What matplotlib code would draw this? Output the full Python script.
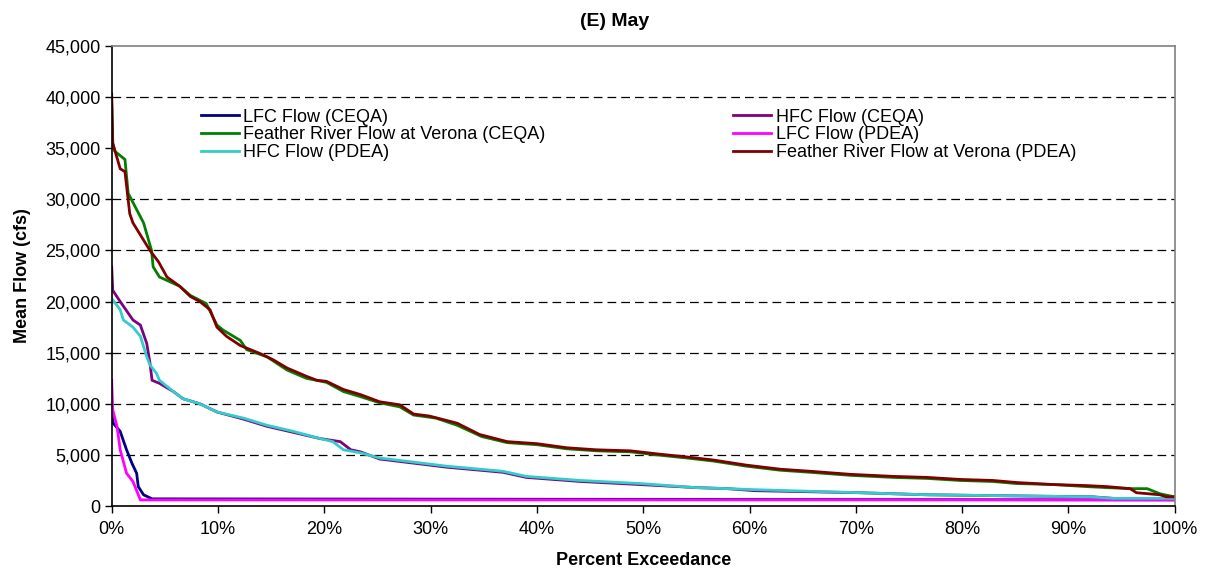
import matplotlib

matplotlib.use("Agg")

import matplotlib.pyplot as plt
from matplotlib.patches import Rectangle
from matplotlib.ticker import FuncFormatter


# ==========================================
# 1. Data
# ==========================================

lfc_ceqa_pct = [0, 0.15, 0.8, 1.4, 1.9, 2.35, 2.5, 3.0, 3.8, 100]
lfc_ceqa_flow = [9700, 8100, 7300, 5500, 4200, 3200, 1900, 1100, 700, 600]

hfc_ceqa_pct = [0, 0.1, 0.8, 2.0, 2.7, 3.3, 3.6, 3.8, 4.5, 5.8, 6.7, 8.3,
                9.9, 12.4, 14.6, 17.1, 19.6, 21.5, 22.5, 23.4, 25.2, 31.5,
                36.8, 39.0, 44.1, 49.7, 55.0, 57.9, 60.5, 70.4, 76.7, 92.3,
                94.8, 100]
hfc_ceqa_flow = [23400, 21100, 20000, 18200, 17700, 15900, 14000, 12300,
                 12000, 11200, 10500, 10000, 9200, 8500, 7800, 7200, 6600,
                 6300, 5500, 5300, 4600, 3800, 3300, 2800, 2400, 2100, 1800,
                 1700, 1500, 1300, 1100, 900, 700, 700]

feather_ceqa_pct = [0, 0.1, 0.3, 1.25, 1.55, 2.35, 3.0, 3.75, 3.9, 4.5,
                    6.4, 7.4, 8.9, 9.9, 10.5, 12.1, 12.7, 14.6, 16.5, 18.3,
                    20.2, 21.8, 23.4, 25.2, 27.1, 28.4, 30.5, 32.5, 34.8,
                    37.2, 40.0, 42.8, 45.6, 48.8, 51.3, 54.1, 56.6, 59.7,
                    62.9, 65.7, 69.5, 73.5, 76.7, 79.8, 82.9, 85.1, 88.6,
                    91.7, 93.6, 95.8, 97.4, 98.6, 99.5, 100]
feather_ceqa_flow = [39500, 35500, 34700, 33900, 30600, 29000, 27700, 25000,
                     23400, 22400, 21500, 20600, 19800, 17700, 17200, 16200,
                     15300, 14600, 13300, 12500, 12100, 11200, 10700, 10100,
                     9700, 8900, 8600, 7900, 6800, 6200, 6000, 5600, 5400,
                     5300, 5000, 4700, 4400, 3900, 3500, 3300, 3000, 2800,
                     2700, 2500, 2400, 2200, 2100, 1900, 1800, 1700, 1700,
                     1200, 1000, 900]

lfc_pdea_pct = [0, 0.1, 0.5, 0.8, 1.4, 2.0, 2.7, 100]
lfc_pdea_flow = [12300, 9400, 7800, 5500, 3200, 2400, 600, 600]

hfc_pdea_pct = [0, 0.8, 1.1, 2.0, 2.7, 3.3, 3.6, 4.2, 4.5, 5.8, 6.7, 8.3,
                9.9, 12.4, 14.6, 17.1, 19.6, 20.8, 21.8, 23.4, 25.2, 31.5,
                36.8, 39.0, 44.1, 49.7, 55.0, 57.9, 60.5, 70.4, 76.7, 92.0,
                94.2, 100]
hfc_pdea_flow = [20300, 19200, 18200, 17500, 16600, 14600, 13800, 13000,
                 12300, 11200, 10500, 10000, 9200, 8600, 7900, 7300, 6600,
                 6300, 5500, 5200, 4700, 3900, 3400, 2900, 2500, 2200, 1800,
                 1700, 1600, 1300, 1100, 900, 750, 750]

feather_pdea_pct = [0, 0.1, 0.8, 1.25, 1.7, 2.0, 3.6, 4.4, 5.2, 6.4, 7.4,
                    8.3, 9.25, 9.9, 10.8, 12.1, 14.0, 15.2, 16.5, 18.3, 19.3,
                    20.2, 21.8, 23.4, 25.2, 27.1, 28.4, 29.9, 32.5, 34.6,
                    37.2, 40.0, 42.8, 45.6, 48.8, 51.3, 54.1, 56.6, 59.7,
                    62.9, 65.7, 69.5, 73.5, 76.7, 79.8, 82.9, 85.1, 88.6,
                    91.7, 93.6, 95.8, 96.4, 98.6, 99.2, 100]
feather_pdea_flow = [40300, 35500, 33000, 32700, 28600, 27700, 25000, 23900,
                     22400, 21500, 20500, 20000, 19200, 17500, 16600, 15700,
                     14900, 14300, 13500, 12700, 12300, 12200, 11400, 10900,
                     10200, 9900, 9000, 8800, 8100, 7000, 6300, 6100, 5700,
                     5500, 5400, 5100, 4800, 4500, 4000, 3600, 3400, 3100,
                     2900, 2800, 2600, 2500, 2300, 2100, 2000, 1900, 1700,
                     1300, 1100, 900, 900]

x_ticks = list(range(0, 101, 10))
y_ticks = list(range(0, 45001, 5000))


# ==========================================
# 2. Figure
# ==========================================

plt.rcParams["font.family"] = ["Liberation Sans", "DejaVu Sans"]

fig = plt.figure(figsize=(12.06, 5.71), dpi=100)
ax = fig.add_axes([0.0926, 0.1138, 0.8815, 0.8056])

series = [
    (lfc_ceqa_pct, lfc_ceqa_flow, "#000080", "LFC Flow (CEQA)"),
    (hfc_ceqa_pct, hfc_ceqa_flow, "#800080", "HFC Flow (CEQA)"),
    (feather_ceqa_pct, feather_ceqa_flow, "#008000",
     "Feather River Flow at Verona (CEQA)"),
    (lfc_pdea_pct, lfc_pdea_flow, "#FF00FF", "LFC Flow (PDEA)"),
    (hfc_pdea_pct, hfc_pdea_flow, "#33CCCC", "HFC Flow (PDEA)"),
    (feather_pdea_pct, feather_pdea_flow, "#800000",
     "Feather River Flow at Verona (PDEA)"),
]

lines = {}
for pct, flow, color, label in series:
    (line,) = ax.plot(pct, flow, color=color, linewidth=2.0, label=label,
                      solid_joinstyle="miter", zorder=3)
    lines[label] = line

# horizontal dashed gridlines
for value in y_ticks[1:-1]:
    ax.axhline(value, color="black", linewidth=0.9,
               linestyle=(0, (7, 4)), zorder=0)

# legend area is white in the original and hides the gridline behind it
ax.add_patch(Rectangle((0, 0.755), 1, 0.12, transform=ax.transAxes,
                       facecolor="white", edgecolor="none", zorder=1))

ax.set_xlim(0, 100)
ax.set_ylim(0, 45000)
ax.set_xticks(x_ticks)
ax.set_yticks(y_ticks)
ax.xaxis.set_major_formatter(FuncFormatter(lambda v, p: f"{v:.0f}%"))
ax.yaxis.set_major_formatter(FuncFormatter(lambda v, p: f"{v:,.0f}"))
ax.tick_params(axis="both", direction="out", length=5, width=1,
               labelsize=13, pad=3, colors="black")
ax.tick_params(axis="x", pad=6)

ax.spines["left"].set_color("black")
ax.spines["bottom"].set_color("black")
ax.spines["top"].set_color("#808080")
ax.spines["right"].set_color("#808080")
for spine in ax.spines.values():
    spine.set_linewidth(1.2)
    spine.set_zorder(4)

ax.set_xlabel("Percent Exceedance", fontsize=13, fontweight="bold",
              labelpad=10)
ax.set_ylabel("Mean Flow (cfs)", fontsize=13, fontweight="bold",
              labelpad=10)
fig.text(0.51, 0.962, "(E) May", ha="center", va="center",
         fontsize=14, fontweight="bold")

# legend: two columns, filled column by column
order = [
    "LFC Flow (CEQA)",
    "Feather River Flow at Verona (CEQA)",
    "HFC Flow (PDEA)",
    "HFC Flow (CEQA)",
    "LFC Flow (PDEA)",
    "Feather River Flow at Verona (PDEA)",
]
ax.legend(
    [lines[name] for name in order],
    order,
    ncol=2,
    frameon=False,
    fontsize=13,
    loc="upper left",
    bbox_to_anchor=(0.084, 0.864),
    handlelength=2.1,
    handletextpad=0.25,
    labelspacing=0.05,
    columnspacing=10.4,
    borderaxespad=0,
    borderpad=0,
)

fig.savefig("out.png", dpi=100)
